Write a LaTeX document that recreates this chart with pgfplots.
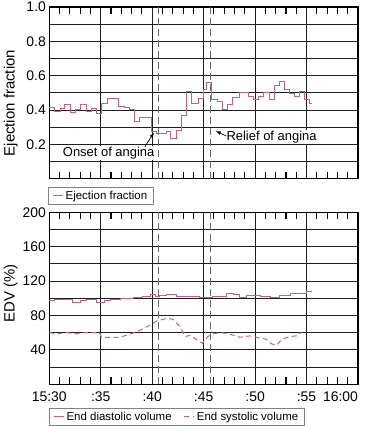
\documentclass[border=0pt]{standalone}
\usepackage{fontspec}
\setmainfont{Liberation Sans}
\usepackage{pgfplots}
\pgfplotsset{compat=1.18}
\definecolor{linecol}{RGB}{200,96,134}
\definecolor{gridcol}{RGB}{30,30,30}
\definecolor{dashcol}{RGB}{105,105,105}
\pgfplotsset{
  common/.style={
    scale only axis, width=308.7bp,
    xmin=0, xmax=30,
    xtick={0,5,...,30},
    minor xtick={1,2,3,4,6,7,8,9,11,12,13,14,16,17,18,19,21,22,23,24,26,27,28,29},
    major tick length=0pt, minor tick length=7bp,
    tick align=inside,
    minor x tick style={black, line width=1.1bp},
    xmajorgrids=true, ymajorgrids=true,
    major grid style={gridcol, line width=0.9bp},
    axis line style={black, line width=1.1bp},
    tick label style={font=\fontsize{14}{16}\selectfont},
    /pgf/number format/assume math mode=true,
    legend style={draw=gray, line width=0.6bp, font=\fontsize{11.5}{13}\selectfont, inner xsep=4bp, inner ysep=1.5bp, /tikz/every even column/.append style={column sep=10bp}},
    legend image post style={xscale=0.6, line width=1.1bp},
    clip=false,
  }
}
\begin{document}
\begin{tikzpicture}
\path[use as bounding box] (0,0) rectangle (368bp,426bp);
\begin{axis}[common, at={(49.3bp,247.4bp)}, anchor=south west, height=171.6bp,
  ymin=0, ymax=1,
  ytick={0.1,0.2,0.3,0.4,0.5,0.6,0.7,0.8,0.9,1.0},
  yticklabels={,0.2,,0.4,,0.6,,0.8,,1.0},
  xticklabels={},
  ylabel={Ejection fraction},
  ylabel style={at={(axis description cs:-0.125,0.44)}, anchor=center, font=\fontsize{15}{17}\selectfont},
  legend style={at={(axis description cs:-0.004,-0.049)}, anchor=north west},
]
\addplot[const plot, linecol, line width=1bp] coordinates {
(0,0.413) (0.55,0.393) (1.04,0.41) (1.52,0.434) (2.07,0.386) (2.59,0.403)
(3.07,0.434) (3.62,0.39) (4.11,0.41) (4.6,0.38) (5.08,0.44) (5.63,0.466)
(6.76,0.422) (7.35,0.413) (7.83,0.403) (8.32,0.335) (8.8,0.357) (9.94,0.273)
(10.42,0.26) (11.39,0.273) (11.81,0.234) (12.36,0.282) (12.85,0.368) (13.33,0.506)
(13.82,0.44) (14.47,0.467) (14.95,0.52) (15.28,0.559) (15.77,0.462) (16.3,0.45)
(16.84,0.40) (17.3,0.43) (17.85,0.475) (18.51,0.5) (19.32,0.477) (19.81,0.46)
(20.29,0.477) (20.78,0.5) (21.36,0.46) (21.91,0.544) (22.39,0.568) (22.88,0.52)
(23.37,0.497) (23.85,0.48) (24.34,0.51) (24.82,0.46) (25.31,0.435) (25.53,0.435)
};
\addlegendentry{Ejection fraction}
\addplot[forget plot, dashcol, line width=1.1bp, dash pattern=on 7bp off 4bp] coordinates {(10.6,0) (10.6,1)};
\addplot[forget plot, dashcol, line width=1.1bp, dash pattern=on 7bp off 4bp] coordinates {(15.7,0) (15.7,1)};
\pgfplotsinvokeforeach{1,2,3,4,6,7,8,9,11,12,13,14,16,17,18,19,21,22,23,24,26,27,28,29}{
  \draw[black, line width=1.1bp] (axis cs:#1,0) -- (axis cs:#1,0.04);
  \draw[black, line width=1.1bp] (axis cs:#1,1) -- (axis cs:#1,0.96);
}
\node[font=\fontsize{13}{15}\selectfont, fill=white, inner sep=1bp] at (axis cs:5.77,0.149) {Onset of angina};
\draw[-latex, black, line width=0.7bp] (axis cs:9.29,0.186) -- (axis cs:10.17,0.267);
\node[font=\fontsize{13}{15}\selectfont, fill=white, inner sep=1bp] at (axis cs:21.6,0.244) {Relief of angina};
\draw[-latex, black, line width=0.7bp] (axis cs:17.2,0.248) -- (axis cs:16.18,0.277);
\end{axis}
\begin{axis}[common, at={(49.3bp,41.7bp)}, anchor=south west, height=172bp,
  ymin=0, ymax=200,
  ytick={20,40,...,200},
  yticklabels={,40,,80,,120,,160,,200},
  xticklabels={15:30,:35,:40,:45,:50,:55,\makebox[0pt][r]{16:00}},
  xticklabel style={yshift=-4bp},
  ylabel={EDV (\%)},
  ylabel style={at={(axis description cs:-0.125,0.53)}, anchor=center, font=\fontsize{15}{17}\selectfont},
  legend columns=2,
  legend style={at={(axis description cs:-0.001,-0.138)}, anchor=north west},
]
\addplot[const plot, linecol, line width=1bp] coordinates {
(0,97.5) (0.5,99) (1.5,98.3) (2.3,95.6) (3.0,97.5) (3.6,98.3) (4.6,95.6)
(5.4,97.5) (5.9,99) (6.9,99.5) (8.2,100.4) (9.1,101.6) (9.8,104.3) (10.3,101.6)
(10.7,103) (11.4,104.3) (12.4,102.4) (13.3,102.6) (14.6,101) (15.9,102)
(17.2,106) (17.9,104) (18.5,101) (19.2,103) (20.5,102) (21.5,101.5) (22.4,103)
(23.4,105) (25.0,108) (25.5,108)
};
\addlegendentry{End diastolic volume}
\addplot[linecol, line width=1bp, dash pattern=on 5bp off 3.5bp] coordinates {
(0,60.2) (0.7,58.6) (1.7,60.2) (2.6,58.6) (3.6,60.2) (4.9,60) (5.05,54.7)
(6.8,54.7) (7.5,57) (8.5,61) (9.5,67) (10.5,74) (11.4,76.5) (12.0,75.7)
(12.7,67) (13.2,55.5) (13.7,57) (14.3,52) (14.9,47.8) (15.4,55.5) (15.9,58.6)
(16.6,60.2) (17.5,58.6) (18.5,54.7) (19.5,56.3) (20.5,53.6) (21.1,52.4)
(21.6,47) (22.1,45.4) (22.6,52.4) (23.4,55.5) (24.0,56.3) (24.5,60.2)
};
\addlegendentry{End systolic volume}
\addplot[forget plot, dashcol, line width=1.1bp, dash pattern=on 7bp off 4bp] coordinates {(10.6,0) (10.6,200)};
\addplot[forget plot, dashcol, line width=1.1bp, dash pattern=on 7bp off 4bp] coordinates {(15.7,0) (15.7,200)};
\pgfplotsinvokeforeach{1,2,3,4,6,7,8,9,11,12,13,14,16,17,18,19,21,22,23,24,26,27,28,29}{
  \draw[black, line width=1.1bp] (axis cs:#1,0) -- (axis cs:#1,8);
  \draw[black, line width=1.1bp] (axis cs:#1,200) -- (axis cs:#1,192);
}
\end{axis}
\end{tikzpicture}
\end{document}
